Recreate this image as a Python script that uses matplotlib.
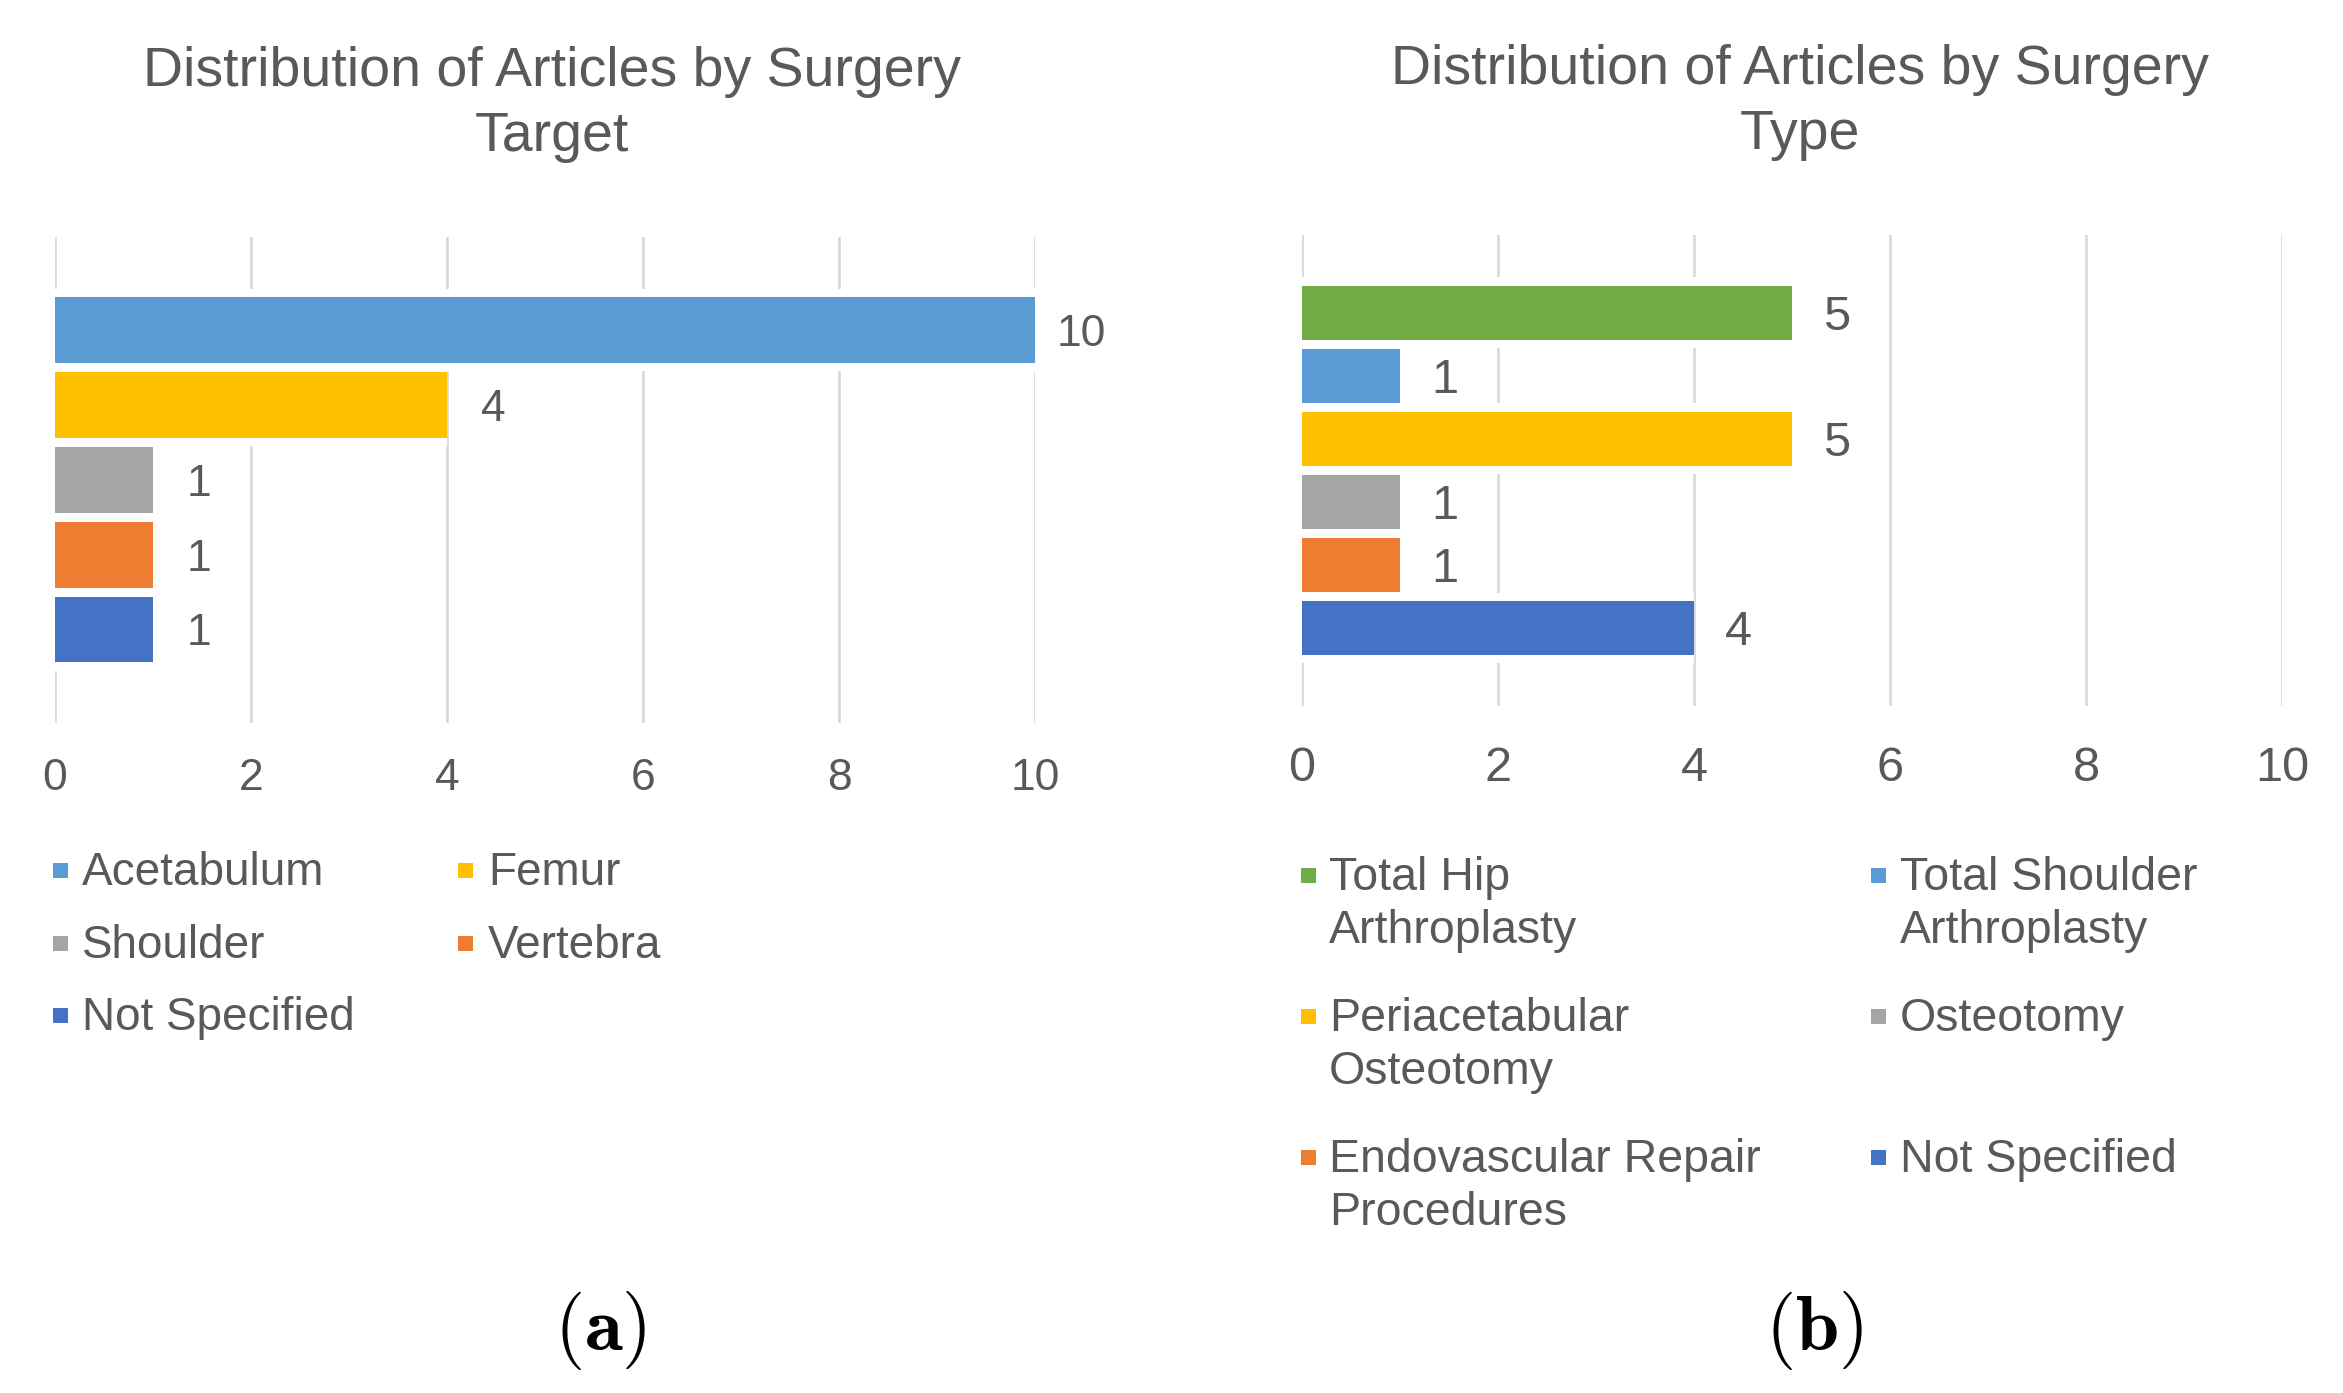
import matplotlib
matplotlib.use("Agg")
import matplotlib.pyplot as plt
from matplotlib.patches import Rectangle
import numpy as np

plt.rcParams['font.family'] = ['Liberation Sans', 'DejaVu Sans']
plt.rcParams['mathtext.fontset'] = 'cm'

W, H = 2343, 1393
TXT = '#595959'
GRID = '#D9D9D9'

# panel (a) data
target_names = ['Acetabulum', 'Femur', 'Shoulder', 'Vertebra', 'Not Specified']
target_counts = [10, 4, 1, 1, 1]
target_colors = ['#5B9BD5', '#FFC000', '#A5A5A5', '#ED7D31', '#4472C4']

# panel (b) data
type_names = ['Total Hip\nArthroplasty', 'Total Shoulder\nArthroplasty',
              'Periacetabular\nOsteotomy', 'Osteotomy',
              'Endovascular Repair\nProcedures', 'Not Specified']
type_counts = [5, 1, 5, 1, 1, 4]
type_colors = ['#70AD47', '#5B9BD5', '#FFC000', '#A5A5A5', '#ED7D31', '#4472C4']

xticks = [0, 2, 4, 6, 8, 10]

fig = plt.figure(figsize=(W / 100, H / 100), dpi=100)
fig.patch.set_facecolor('white')


def px_axes(x0, y0, x1, y1):
    # pixel box (top-left origin) -> figure axes
    return fig.add_axes([x0 / W, 1 - y1 / H, (x1 - x0) / W, (y1 - y0) / H])


def fig_text(x, y, s, **kw):
    fig.text(x / W, 1 - y / H, s, **kw)


def draw_panel(ax, names, counts, colors, bar_h, white_h, margin, fs, pad, lab_off):
    y = np.arange(len(names))
    # white band behind each bar hides the gridlines in the gaps, like excel
    ax.barh(y, counts, height=white_h, color='white', zorder=2)
    ax.barh(y, counts, height=bar_h, color=colors, zorder=3)
    for yi, v in zip(y, counts):
        ax.annotate(str(v), (v, yi), xytext=(lab_off, -0.36 * fs), textcoords='offset points',
                    ha='center', va='baseline', fontsize=fs, color=TXT, zorder=4)
    ax.set_xlim(0, 10)
    ax.set_ylim(len(names) - 1 + margin, -margin)
    ax.set_xticks(xticks)
    ax.set_yticks([])
    ax.tick_params(axis='x', length=0, labelsize=fs, labelcolor=TXT, pad=pad)
    ax.grid(axis='x', color=GRID, linewidth=2.0, zorder=1)
    ax.set_axisbelow(True)
    for s in ax.spines.values():
        s.set_visible(False)


ax1 = px_axes(55, 236.5, 1035, 723)
draw_panel(ax1, target_names, target_counts, target_colors,
           0.88, 1.10, 1.25, 32, 25, 33)

ax2 = px_axes(1302, 234.6, 2282, 706)
draw_panel(ax2, type_names, type_counts, type_colors,
           0.855, 1.12, 1.24, 35, 29, 32)

# titles
fig_text(552, 86, 'Distribution of Articles by Surgery', ha='center', va='baseline',
         fontsize=40, color=TXT)
fig_text(552, 151, 'Target', ha='center', va='baseline', fontsize=40, color=TXT)
fig_text(1800, 84, 'Distribution of Articles by Surgery', ha='center', va='baseline',
         fontsize=40, color=TXT)
fig_text(1800, 149, 'Type', ha='center', va='baseline', fontsize=40, color=TXT)


def legend(names, colors, mark_x, text_x, row_base, line_gap, fs, ncol=2):
    for i, (n, c) in enumerate(zip(names, colors)):
        r, col = divmod(i, ncol)
        base = row_base[r]
        mx = mark_x[col]
        my = base - 14.5 - 7.5
        fig.add_artist(Rectangle((mx / W, 1 - (my + 15) / H), 15 / W, 15 / H,
                                 transform=fig.transFigure, color=c, lw=0))
        for k, line in enumerate(n.split('\n')):
            fig_text(text_x[col], base + k * line_gap, line, ha='left', va='baseline',
                     fontsize=fs, color=TXT)


legend(target_names, target_colors, [53, 458], [82, 488], [885, 958, 1030], 53, 33)
legend(type_names, type_colors, [1301, 1871], [1329, 1900], [890, 1031, 1172], 53, 33.5)

# panel labels
fig_text(600, 1350, r'$\mathbf{(a)}$', ha='center', va='baseline', fontsize=56, color='black')
fig_text(1814, 1350, r'$\mathbf{(b)}$', ha='center', va='baseline', fontsize=56, color='black')

fig.savefig('out.png', dpi=100, facecolor='white')
